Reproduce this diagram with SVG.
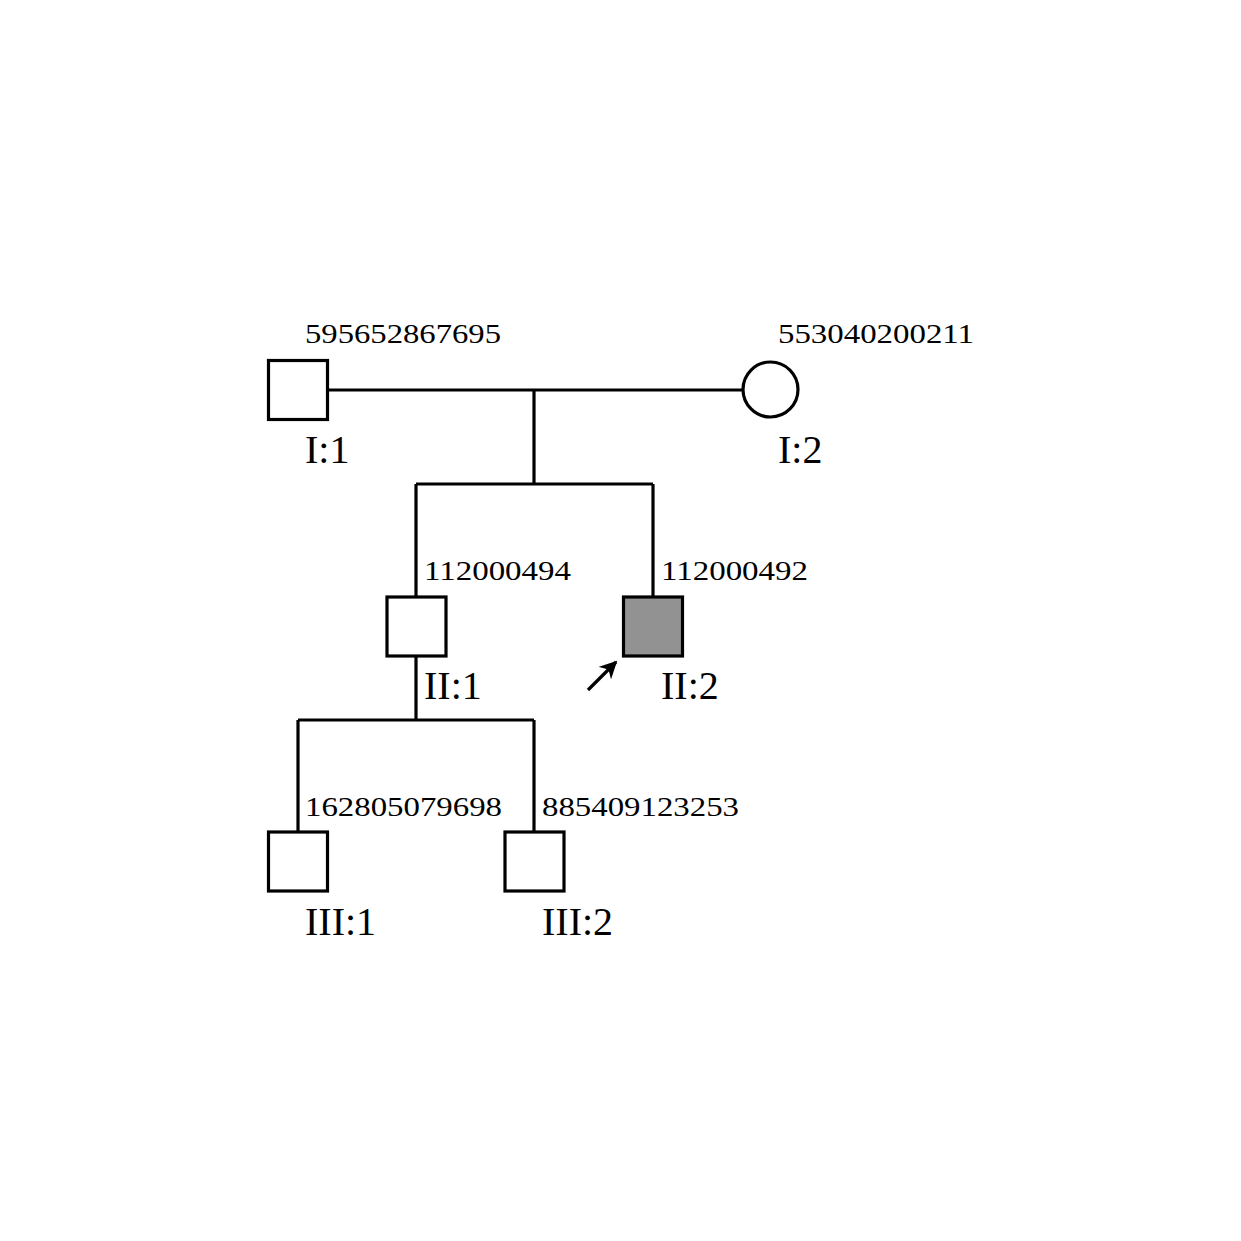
<svg xmlns="http://www.w3.org/2000/svg" width="1241" height="1241" viewBox="0 0 1241 1241">
<style>
.n{fill:#fff;stroke:#000;stroke-width:3.2}
.a{fill:#929292;stroke:#000;stroke-width:3.2}
.c{fill:none;stroke:#000;stroke-width:3.2}
.id{font-family:"Liberation Serif","DejaVu Serif",serif;font-size:28px;fill:#000}
.lb{font-family:"Liberation Serif","DejaVu Serif",serif;font-size:40px;fill:#000}
</style>
<defs>
<marker id="ah" viewBox="0 0 10 10" refX="9" refY="5" markerWidth="5.5" markerHeight="5.5" orient="auto" markerUnits="strokeWidth">
<path d="M0,0 L10,5 L0,10 L3,5 Z" fill="#000"/>
</marker>
</defs>
<rect width="1241" height="1241" fill="#fff"/>
<g id="connectors">
<path class="c" d="M328,390 H742"/>
<path class="c" d="M534,390 V484"/>
<path class="c" d="M416,484 H653"/>
<path class="c" d="M416,484 V597"/>
<path class="c" d="M653,484 V597"/>
<path class="c" d="M416,656 V720"/>
<path class="c" d="M298,720 H534"/>
<path class="c" d="M298,720 V832"/>
<path class="c" d="M534,720 V832"/>
<path class="c" d="M588,690 L616,662" marker-end="url(#ah)"/>
</g>
<g id="I1">
<rect class="n" x="268.5" y="360.5" width="59" height="59"/>
<text class="id" x="305" y="343" textLength="196" lengthAdjust="spacingAndGlyphs">595652867695</text>
<text class="lb" x="305" y="463">I:1</text>
</g>
<g id="I2">
<circle class="n" cx="770.5" cy="389.5" r="27.5"/>
<text class="id" x="778" y="343" textLength="196" lengthAdjust="spacingAndGlyphs">553040200211</text>
<text class="lb" x="778" y="463">I:2</text>
</g>
<g id="II1">
<rect class="n" x="387" y="597" width="59" height="59"/>
<text class="id" x="424" y="580" textLength="147" lengthAdjust="spacingAndGlyphs">112000494</text>
<text class="lb" x="424" y="699">II:1</text>
</g>
<g id="II2">
<rect class="a" x="623.5" y="597" width="59" height="59"/>
<text class="id" x="661" y="580" textLength="147" lengthAdjust="spacingAndGlyphs">112000492</text>
<text class="lb" x="661" y="699">II:2</text>
</g>
<g id="III1">
<rect class="n" x="268.5" y="832" width="59" height="59"/>
<text class="id" x="305" y="816" textLength="197" lengthAdjust="spacingAndGlyphs">162805079698</text>
<text class="lb" x="305" y="935">III:1</text>
</g>
<g id="III2">
<rect class="n" x="505" y="832" width="59" height="59"/>
<text class="id" x="542" y="816" textLength="197" lengthAdjust="spacingAndGlyphs">885409123253</text>
<text class="lb" x="542" y="935">III:2</text>
</g>
</svg>
